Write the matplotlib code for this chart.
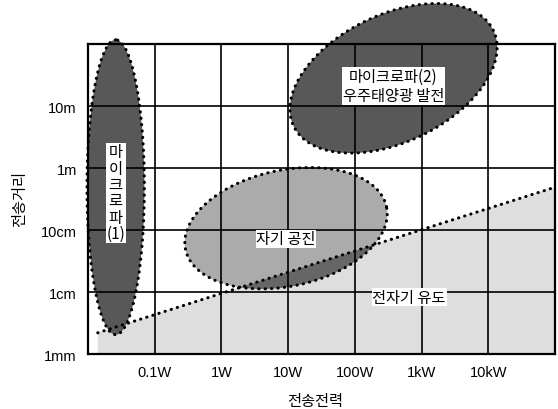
import numpy as np
import matplotlib
matplotlib.use("Agg")
import matplotlib.pyplot as plt
from matplotlib.patches import Polygon

plt.rcParams['font.family'] = ['Noto Sans CJK KR', 'DejaVu Sans']

# ---- data (power in W, distance in m) ----
x_ticks = [0.1, 1, 10, 100, 1000, 10000]
x_tick_labels = ['0.1W', '1W', '10W', '100W', '1kW', '10kW']
y_ticks = [0.001, 0.01, 0.1, 1, 10]
y_tick_labels = ['1mm', '1cm', '10cm', '1m', '10m']
x_range = [0.01, 1e5]
y_range = [0.001, 100]

# regions: centre (W, m), semi-axes (decades of power), tilt (deg)
region_names = ['마이크로파(1)', '마이크로파(2)\n우주태양광 발전', '자기 공진']
region_center_w = [0.026, 380, 9.3]
region_center_m = [0.49, 28, 0.107]
region_semi_major = [2.21, 1.66, 1.54]
region_semi_minor = [0.43, 0.955, 0.87]
region_angle = [90, 25.6, 12]

# electromagnetic induction boundary (W, m)
induction_w = [0.014, 1e5]
induction_m = [0.0022, 0.49]

fig = plt.figure(figsize=(5.58, 4.10), dpi=100)
ax = fig.add_axes([0.1577, 0.1341, 0.8369, 0.7561])
ax.set_xscale('log')
ax.set_yscale('log')
ax.set_xlim(*x_range)
ax.set_ylim(*y_range)

# aspect factor: pixels per y-decade / pixels per x-decade
bb = ax.get_position()
px_x = bb.width * fig.get_figwidth() / np.log10(x_range[1] / x_range[0])
px_y = bb.height * fig.get_figheight() / np.log10(y_range[1] / y_range[0])
k = px_y / px_x

def ellipse_pts(cw, cm, a, b, ang, n=600):
    t = np.linspace(0, 2 * np.pi, n)
    th = np.deg2rad(ang)
    dx = a * np.cos(th) * np.cos(t) - b * np.sin(th) * np.sin(t)
    dy = (a * np.sin(th) * np.cos(t) + b * np.cos(th) * np.sin(t)) / k
    return np.column_stack([cw * 10 ** dx, cm * 10 ** dy])

dot_ls = (0, (0.1, 2.0))

# induction region
ind_poly = np.array([[induction_w[0], y_range[0]],
                     [induction_w[0], induction_m[0]],
                     [induction_w[1], induction_m[1]],
                     [induction_w[1], y_range[0]]])
ax.add_patch(Polygon(ind_poly, closed=True, facecolor='#dedede',
                     edgecolor='none', zorder=1))

# magnetic resonance ellipse
res = ellipse_pts(region_center_w[2], region_center_m[2], region_semi_major[2],
                  region_semi_minor[2], region_angle[2])
ax.add_patch(Polygon(res, closed=True, facecolor='#ababab', edgecolor='none', zorder=2))
ov = Polygon(res, closed=True, facecolor='#666666', edgecolor='none', zorder=2.5)
ax.add_patch(ov)
clip = Polygon(ind_poly, closed=True, transform=ax.transData)
ov.set_clip_path(clip)
ax.add_patch(Polygon(res, closed=True, fill=False, edgecolor='black', lw=2.2,
                     linestyle=dot_ls, capstyle='round', zorder=6))

# microwave ellipses
for i in [0, 1]:
    pts = ellipse_pts(region_center_w[i], region_center_m[i], region_semi_major[i],
                      region_semi_minor[i], region_angle[i])
    ax.add_patch(Polygon(pts, closed=True, facecolor='#585858', edgecolor='none',
                         zorder=3, clip_on=False))
    ax.add_patch(Polygon(pts, closed=True, fill=False, edgecolor='black', lw=2.2,
                         linestyle=dot_ls, capstyle='round', zorder=6, clip_on=False))

# boundary line
ax.plot(induction_w, induction_m, color='black', lw=2.2, linestyle=dot_ls,
        dash_capstyle='round', zorder=6)

# grid
for xv in x_ticks:
    ax.axvline(xv, color='black', lw=1.2, zorder=4)
for yv in y_ticks[1:]:
    ax.axhline(yv, color='black', lw=1.2, zorder=4)

ax.set_xticks(x_ticks)
ax.set_xticklabels(x_tick_labels)
ax.set_yticks(y_ticks)
ax.set_yticklabels(y_tick_labels)
ax.minorticks_off()
ax.tick_params(length=0)
ax.tick_params(axis='x', pad=8)
ax.tick_params(axis='y', pad=8)
for lab in ax.get_xticklabels() + ax.get_yticklabels():
    lab.set_family(['Liberation Sans Narrow', 'Liberation Sans', 'DejaVu Sans'])
    lab.set_fontsize(10.5)
for s in ax.spines.values():
    s.set_linewidth(1.6)
    s.set_zorder(7)

box = dict(facecolor='white', edgecolor='none', pad=0.6)
ax.text(0.026, 0.40, '마\n이\n크\n로\n파\n(1)', ha='center', va='center',
        fontsize=11, linespacing=0.95, bbox=box, zorder=8)
ax.text(region_center_w[1], 21, region_names[1], ha='center', va='center',
        fontsize=11, linespacing=1.15, bbox=box, zorder=8)
ax.text(9.3, 0.072, region_names[2], ha='center', va='center',
        fontsize=11, bbox=box, zorder=8)
ax.text(650, 0.0083, '전자기 유도', ha='center', va='center',
        fontsize=11, bbox=box, zorder=8)

fig.text(0.036, 0.515, '전송거리', rotation=90, ha='center', va='center', fontsize=11)
fig.text(0.565, 0.02, '전송전력', ha='center', va='center', fontsize=11)

fig.savefig('out.png', dpi=100)
